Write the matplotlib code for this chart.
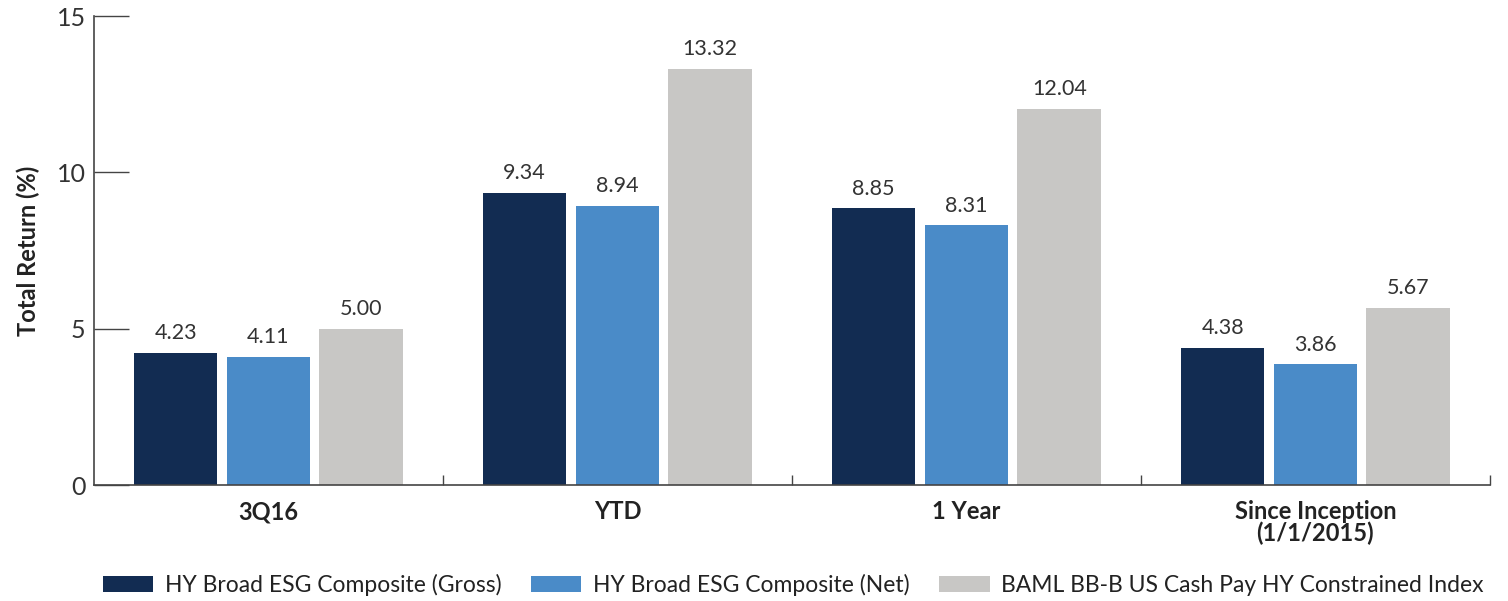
import matplotlib.pyplot as plt
import numpy as np

plt.rcParams['font.family'] = ['Lato', 'DejaVu Sans']

categories = ['3Q16', 'YTD', '1 Year', 'Since Inception\n(1/1/2015)']
series_names = [
    'HY Broad ESG Composite (Gross)',
    'HY Broad ESG Composite (Net)',
    'BAML BB-B US Cash Pay HY Constrained Index',
]
gross = [4.23, 9.34, 8.85, 4.38]
net = [4.11, 8.94, 8.31, 3.86]
index = [5.00, 13.32, 12.04, 5.67]
colors = ['#122c52', '#4a8bc8', '#c8c7c5']

fig = plt.figure(figsize=(15.08, 6.01), dpi=100)
ax = fig.add_axes([0.0623, 0.193, 0.9257, 0.780])

x = np.arange(len(categories))
width = 0.24
pitch = 0.266

for i, (vals, name, col) in enumerate(zip([gross, net, index], series_names, colors)):
    pos = x + (i - 1) * pitch
    ax.bar(pos, vals, width, color=col, label=name, zorder=2)
    for px, v in zip(pos, vals):
        ax.annotate(f'{v:.2f}', (px, v), xytext=(0, 7), textcoords='offset points',
                    ha='center', va='bottom', fontsize=15.5, color='#333333')

ax.set_xlim(-0.5, len(categories) - 0.5)
ax.set_ylim(0, 15)
ax.set_yticks([0, 5, 10, 15])
ax.tick_params(axis='y', direction='in', length=25, width=1, color='#444444',
               labelsize=18, labelcolor='#333333', pad=6)

ax.set_xticks(x)
ax.set_xticklabels(categories, fontweight='bold', fontsize=17, color='#222222',
                   linespacing=0.9, va='top')
ax.tick_params(axis='x', which='major', length=0, pad=11)
ax.set_xticks(list(x[1:] - 0.5) + [len(categories) - 0.5], minor=True)
ax.tick_params(axis='x', which='minor', direction='in', length=7, width=1, color='#444444')

for s in ['top', 'right']:
    ax.spines[s].set_visible(False)
for s in ['left', 'bottom']:
    ax.spines[s].set_color('#444444')
    ax.spines[s].set_linewidth(1.2)

ax.set_ylabel('Total Return (%)', fontweight='bold', fontsize=17, color='#222222', labelpad=12)

fig.legend(loc='center', bbox_to_anchor=(0.526, 0.027), ncol=3, frameon=False,
           fontsize=16.5, handlelength=2.2, handleheight=0.7, handletextpad=0.5,
           columnspacing=1.3, labelcolor='#222222')

fig.savefig('out.png', dpi=100)
